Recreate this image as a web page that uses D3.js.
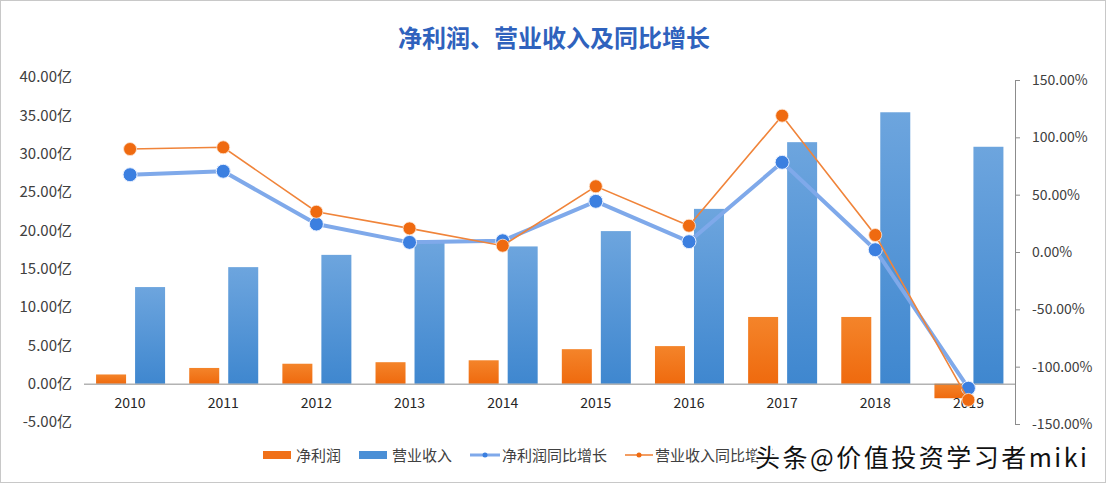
<!DOCTYPE html>
<html><head><meta charset="utf-8">
<script src="https://cdn.jsdelivr.net/npm/d3@7/dist/d3.min.js"></script>
<style>body{margin:0;background:#fff}svg{display:block}text{font-family:"Noto Sans CJK SC","Noto Sans",sans-serif}</style>
</head><body>
<svg id="c" width="1108" height="486"></svg>
<script>
const years = ["2010","2011","2012","2013","2014","2015","2016","2017","2018","2019"];
const netProfit = [1.2, 2.05, 2.6, 2.8, 3.05, 4.5, 4.9, 8.7, 8.7, -1.9];
const revenue = [12.6, 15.2, 16.8, 18.7, 17.9, 19.9, 22.8, 31.5, 35.4, 30.9];
const netProfitGrowth = [67.4, 70.4, 24.4, 8.4, 9.8, 44.2, 9.0, 78.2, 2.0, -118.8];
const revenueGrowth = [89.8, 91.3, 35.1, 20.6, 5.5, 57.3, 22.9, 118.9, 14.8, -129];
const leftTicks = [-5, 0, 5, 10, 15, 20, 25, 30, 35, 40];
const rightTicks = [-150, -100, -50, 0, 50, 100, 150];
const seriesNames = ["净利润", "营业收入", "净利润同比增长", "营业收入同比增长"];
const title = "净利润、营业收入及同比增长";

const svg = d3.select("#c");
const defs = svg.append("defs");
const gO = defs.append("linearGradient").attr("id","gO").attr("x1",0).attr("y1",0).attr("x2",0).attr("y2",1);
gO.append("stop").attr("offset","0%").attr("stop-color","#f4842a");
gO.append("stop").attr("offset","100%").attr("stop-color","#ef6a0e");
const gB = defs.append("linearGradient").attr("id","gB").attr("x1",0).attr("y1",0).attr("x2",0).attr("y2",1);
gB.append("stop").attr("offset","0%").attr("stop-color","#6da5de");
gB.append("stop").attr("offset","100%").attr("stop-color","#3f87cf");

svg.append("rect").attr("x",0.5).attr("y",0.5).attr("width",1105).attr("height",482)
  .attr("fill","#fff").attr("stroke","#c8c8c8");

const x = d3.scaleBand().domain(years).range([83.5, 1015]);
const yL = d3.scaleLinear().domain([-5, 40]).range([422, 77]);
const yR = d3.scaleLinear().domain([-150, 150]).range([424, 80]);
const cx = d => x(d) + x.bandwidth()/2;

// title
svg.append("text").attr("x",554).attr("y",47).attr("text-anchor","middle")
  .attr("font-size",24).attr("font-weight","bold").attr("fill","#2f62bd").text(title);

// left axis
const aL = svg.append("g").attr("transform","translate(72,0)")
  .call(d3.axisLeft(yL).tickValues(leftTicks).tickSize(0).tickPadding(0).tickFormat(d => d.toFixed(2)+"亿"));
aL.select(".domain").remove();
aL.selectAll("text").attr("font-size",15).attr("fill","#404040")
  .style("font-family",'"Noto Sans CJK SC",sans-serif');

// right axis
const aR = svg.append("g").attr("transform","translate(1015,0)")
  .call(d3.axisRight(yR).tickValues(rightTicks).tickSize(5).tickPadding(12).tickFormat(d => d.toFixed(2)+"%"));
aR.select(".domain").attr("stroke","#8c8c8c");
aR.selectAll(".tick line").attr("stroke","#8c8c8c");
aR.selectAll("text").attr("font-size",14).attr("fill","#404040")
  .style("font-family",'"Noto Sans CJK SC",sans-serif');

// bars
svg.append("g").selectAll("rect").data(years).join("rect")
  .attr("x", d => cx(d) - 34).attr("width", 30)
  .attr("y", (d,i) => Math.min(yL(netProfit[i]), yL(0)))
  .attr("height", (d,i) => Math.abs(yL(netProfit[i]) - yL(0)))
  .attr("fill","url(#gO)");
svg.append("g").selectAll("rect").data(years).join("rect")
  .attr("x", d => cx(d) + 5).attr("width", 30)
  .attr("y", (d,i) => yL(revenue[i]))
  .attr("height", (d,i) => yL(0) - yL(revenue[i]))
  .attr("fill","url(#gB)");

// category axis
const aX = svg.append("g").attr("transform",`translate(0,${yL(0)})`)
  .call(d3.axisBottom(x).tickSize(0).tickPadding(14));
aX.select(".domain").attr("stroke","#8c8c8c");
aX.selectAll("text").attr("font-size",14).attr("fill","#262626")
  .style("font-family",'"Noto Sans CJK SC",sans-serif');

// lines
const lineB = d3.line().x((d,i) => cx(years[i])).y(d => yR(d));
svg.append("path").datum(netProfitGrowth).attr("d", lineB)
  .attr("fill","none").attr("stroke","#7fa9ea").attr("stroke-width",4).attr("stroke-linejoin","round");
svg.append("g").selectAll("circle").data(netProfitGrowth).join("circle")
  .attr("cx",(d,i)=>cx(years[i])).attr("cy",d=>yR(d)).attr("r",7)
  .attr("fill","#3b7fe0").attr("stroke","#e8f0ff").attr("stroke-width",1);
svg.append("path").datum(revenueGrowth).attr("d", lineB)
  .attr("fill","none").attr("stroke","#f0843a").attr("stroke-width",1.6);
svg.append("g").selectAll("circle").data(revenueGrowth).join("circle")
  .attr("cx",(d,i)=>cx(years[i])).attr("cy",d=>yR(d)).attr("r",6.5)
  .attr("fill","#ef6a10").attr("stroke","#fde6d4").attr("stroke-width",0.8);

// legend
const lg = svg.append("g").attr("font-size",15).attr("fill","#404040");
lg.append("rect").attr("x",263).attr("y",451).attr("width",28).attr("height",8).attr("fill","#f07018");
lg.append("text").attr("x",296).attr("y",461).text(seriesNames[0]);
lg.append("rect").attr("x",359).attr("y",451).attr("width",28).attr("height",8).attr("fill","#4a8fd6");
lg.append("text").attr("x",392).attr("y",461).text(seriesNames[1]);
lg.append("line").attr("x1",470).attr("x2",500).attr("y1",455).attr("y2",455).attr("stroke","#7fa9ea").attr("stroke-width",3);
lg.append("circle").attr("cx",485).attr("cy",455).attr("r",2.5).attr("fill","#3b7fe0");
lg.append("text").attr("x",502).attr("y",461).text(seriesNames[2]);
lg.append("line").attr("x1",625).attr("x2",653).attr("y1",455).attr("y2",455).attr("stroke","#f0843a").attr("stroke-width",1.6);
lg.append("circle").attr("cx",639).attr("cy",455).attr("r",2.5).attr("fill","#ef6a10");
lg.append("text").attr("x",655).attr("y",461).text(seriesNames[3]);

// watermark
svg.append("text").attr("x",755).attr("y",467).attr("font-size",25).attr("letter-spacing",2.5)
  .attr("fill","#111").attr("stroke","#fff").attr("stroke-width",4).attr("paint-order","stroke")
  .text("头条@价值投资学习者miki");
</script>
</body></html>
